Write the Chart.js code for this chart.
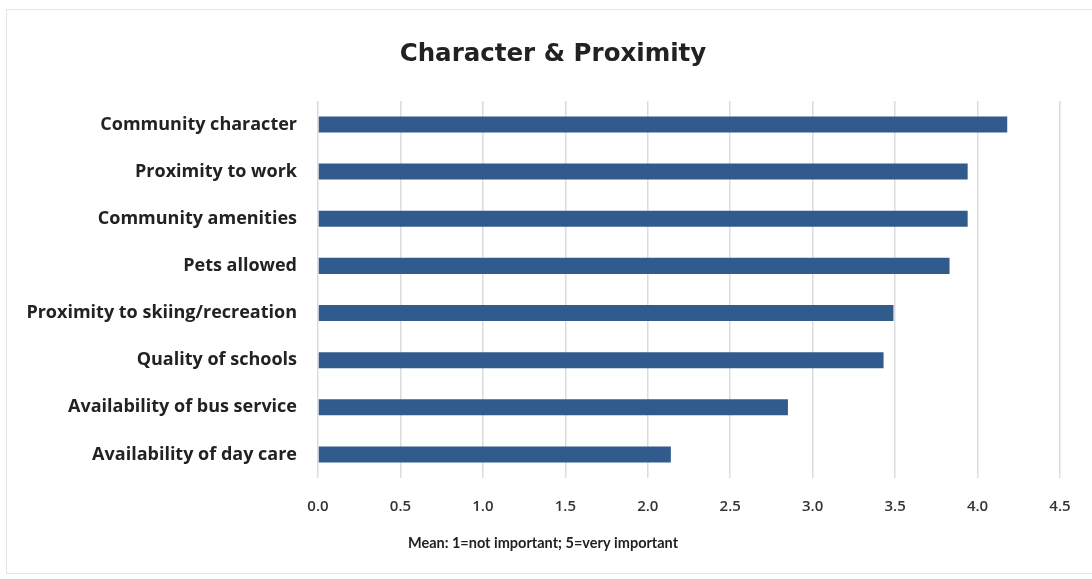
<!DOCTYPE html>
<html>
<head>
<meta charset="utf-8">
<script src="https://cdn.jsdelivr.net/npm/chart.js@4"></script>
<style>
  html, body { margin: 0; padding: 0; background: #ffffff; }
  #wrap { position: relative; width: 1092px; height: 579px; overflow: hidden; }
  #frame { position: absolute; left: 6px; top: 9px; width: 1100px; height: 565px; border: 1px solid #e4e4e4; box-sizing: border-box; pointer-events: none; }
  canvas { position: absolute; left: 0; top: 0; }
</style>
</head>
<body>
<div id="wrap">
  <canvas id="c" width="1092" height="579"></canvas>
  <div id="frame"></div>
</div>
<script>
const categories = [
  "Community character",
  "Proximity to work",
  "Community amenities",
  "Pets allowed",
  "Proximity to skiing/recreation",
  "Quality of schools",
  "Availability of bus service",
  "Availability of day care"
];
const meanValues = [4.18, 3.94, 3.94, 3.83, 3.49, 3.43, 2.85, 2.14];
const xTicks = [0.0, 0.5, 1.0, 1.5, 2.0, 2.5, 3.0, 3.5, 4.0, 4.5];
const chartTitle = "Character & Proximity";
const xAxisTitle = "Mean: 1=not important; 5=very important";

// horizontal offsets of the title blocks (layout tweak)
const titleShift = 23;
const subtitleShift = 13;

const shiftTitles = {
  id: 'shiftTitles',
  afterLayout(chart) {
    chart.boxes.forEach(b => {
      if (b.options && b.options.text === chartTitle) { b.left += titleShift; b.right += titleShift; }
      if (b.options && b.options.text === xAxisTitle) { b.left += subtitleShift; b.right += subtitleShift; }
    });
  }
};

new Chart(document.getElementById('c'), {
  type: 'bar',
  data: {
    labels: categories,
    datasets: [{
      data: meanValues,
      backgroundColor: '#305b8c',
      borderWidth: 0,
      barPercentage: 0.68,
      categoryPercentage: 0.5
    }]
  },
  plugins: [shiftTitles],
  options: {
    indexAxis: 'y',
    responsive: false,
    animation: false,
    layout: { padding: { left: 0, right: 32, top: 0, bottom: 0 } },
    plugins: {
      legend: { display: false },
      tooltip: { enabled: false },
      title: {
        display: true,
        text: chartTitle,
        color: '#222222',
        font: { family: "'DejaVu Sans', sans-serif", size: 24.5, weight: 'bold' },
        padding: { top: 40, bottom: 31.5 }
      },
      subtitle: {
        display: true,
        position: 'bottom',
        text: xAxisTitle,
        color: '#222222',
        font: { family: "Lato, sans-serif", size: 14.5, weight: 'bold', lineHeight: 1.0 },
        padding: { top: 0, bottom: 28.5 }
      }
    },
    scales: {
      x: {
        type: 'linear',
        min: 0,
        max: 4.5,
        afterBuildTicks: (scale) => { scale.ticks = xTicks.map(v => ({ value: v })); },
        ticks: {
          color: '#333333',
          font: { family: "'Open Sans', sans-serif", size: 15, weight: '600' },
          padding: 20,
          callback: (v) => Number(v).toFixed(1)
        },
        grid: { color: '#dcdcdc', lineWidth: 1.5, drawTicks: false },
        border: { display: false }
      },
      y: {
        afterFit: (scale) => { scale.width = 318; },
        ticks: {
          color: '#222222',
          font: { family: "'Open Sans', sans-serif", size: 18, weight: 'bold' },
          padding: 21
        },
        grid: { display: false, drawTicks: false },
        border: { display: false }
      }
    }
  }
});
</script>
</body>
</html>
